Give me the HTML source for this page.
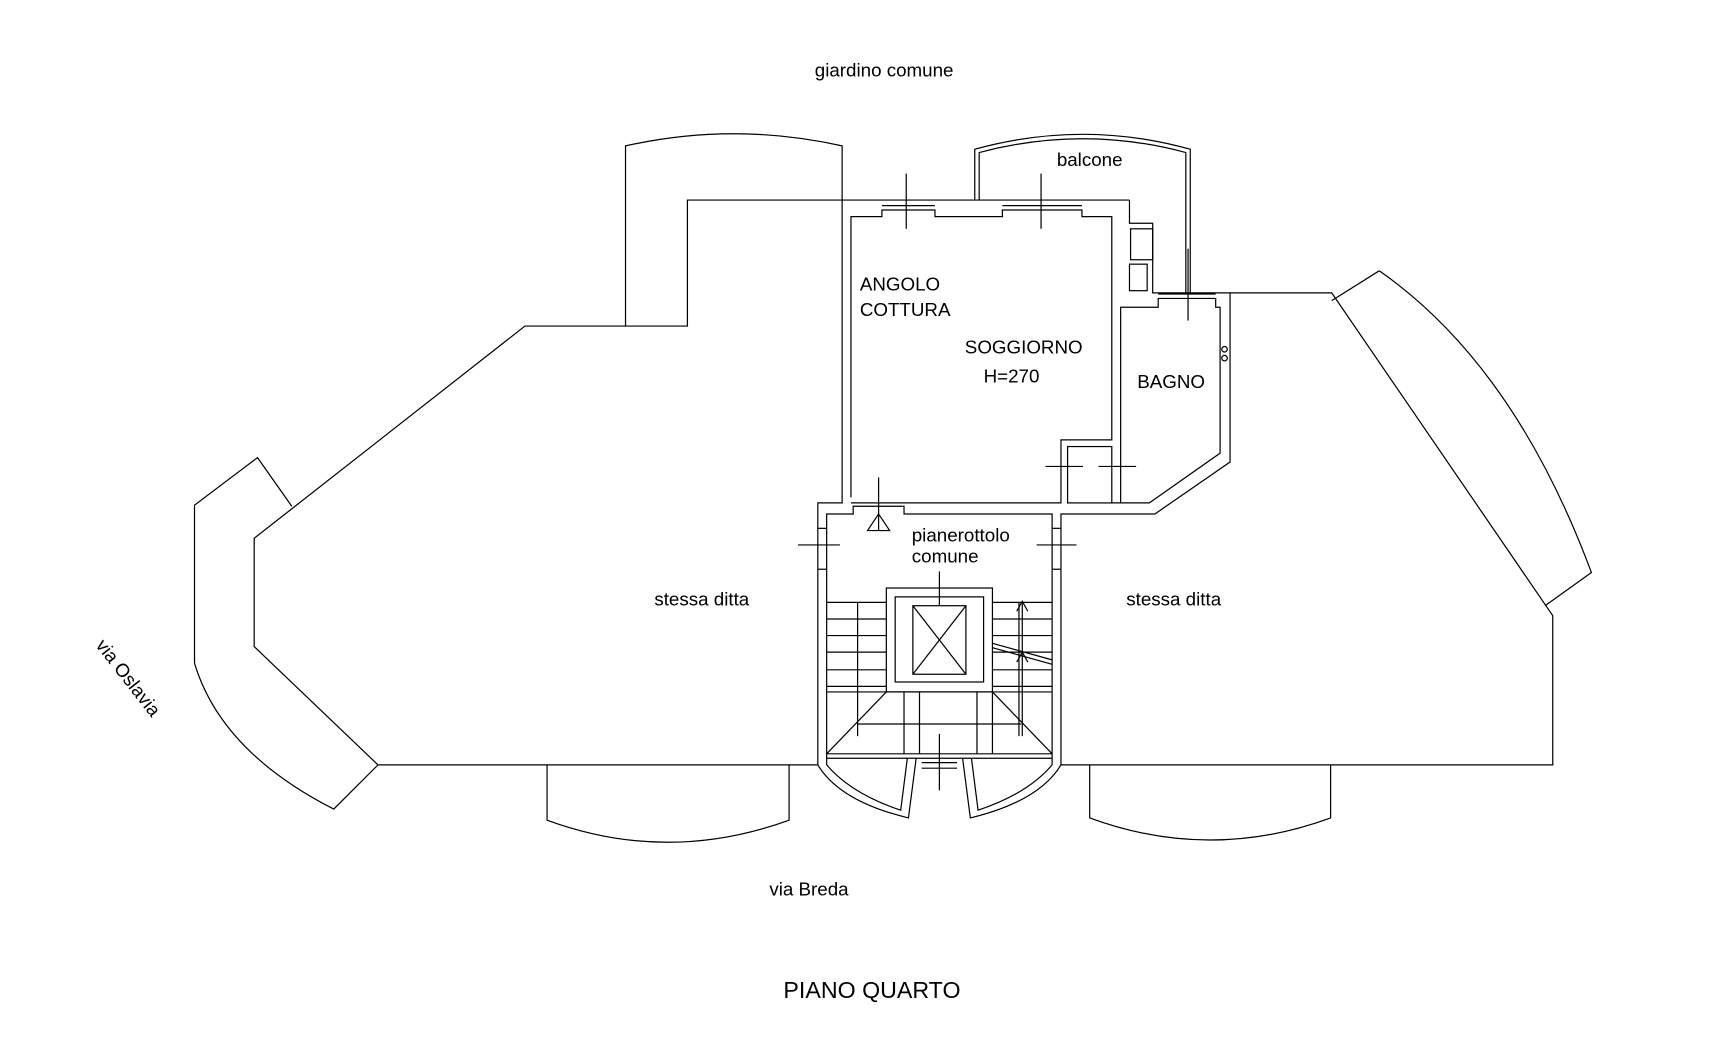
<!DOCTYPE html>
<html><head><meta charset="utf-8"><style>
html,body{margin:0;padding:0;background:#fff;width:1734px;height:1039px;overflow:hidden}
svg{display:block}
text{font-family:"Liberation Sans",Arial,sans-serif;fill:#000}
</style></head><body>
<svg width="1734" height="1039" viewBox="0 0 1569 940" preserveAspectRatio="none" xmlns="http://www.w3.org/2000/svg">
<g fill="none" stroke="#000" stroke-width="1.1">
<polyline points="740,692 342,692 230,585 230,487 475,295 622,295 622,181 1022,181"/>
<polyline points="264,458 233,414 176,457 176,600"/>
<path d="M176,600 Q200,680 302,732 L342,692"/>
<path d="M566,295 L566,132 Q664,110 762,132 L762,181"/>
<path d="M882,181 L882,135 Q980,108 1077,135 L1077,265"/>
<path d="M886,181 L886,138 Q980,113 1073,138 L1073,265"/>
<path d="M495,692 L495,742 Q604,782 714,742 L714,692"/>
<path d="M986,692 L986,740 Q1095,780 1204,740 L1204,692"/>
<polyline points="960,692 1405,692 1405,557 1205,265 1113,265"/>
<polyline points="1205,272 1248,245"/>
<path d="M1248,245 Q1370,330 1440,518 L1398,548"/>
<polyline points="762,181 762,455 740,455 740,692"/>
<polyline points="1022,181 1022,202 1043,202 1043,265 1113,265 1113,418 1045,465 960,465 960,692"/>
<polyline points="770,450 770,196 798,196 798,190 846,190 846,196 907,196 907,190 979,190 979,196 1006,196 1006,398 960,398 960,455 770,455"/>
<line x1="798" y1="186" x2="846" y2="186"/><line x1="907" y1="186" x2="979" y2="186"/>
<line x1="820" y1="157" x2="820" y2="207"/><line x1="942" y1="157" x2="942" y2="207"/>
<rect x="1023" y="207" width="20" height="28"/>
<rect x="1022" y="239" width="16" height="24"/>
<polyline points="1014,455 1014,278 1048,278 1048,270 1100,270 1100,278 1104,278 1104,410 1040,455 1006,455"/>
<line x1="1048" y1="266" x2="1100" y2="266"/>
<line x1="1075" y1="225" x2="1075" y2="290"/>
<circle cx="1108" cy="316" r="2.5"/><circle cx="1108" cy="324" r="2.5"/>
<rect x="966" y="404" width="40" height="51"/>
<line x1="946" y1="422" x2="980" y2="422"/><line x1="994" y1="422" x2="1028" y2="422"/>
<polyline points="748,692 748,465 772,465 772,458 818,458 818,465 952,465 952,692"/>
<line x1="795" y1="432" x2="795" y2="480"/>
<polygon points="795,465 785,480 805,480"/>
<line x1="722" y1="493" x2="760" y2="493"/><line x1="938" y1="493" x2="974" y2="493"/>
<line x1="740" y1="478" x2="748" y2="478"/><line x1="740" y1="515" x2="748" y2="515"/>
<line x1="952" y1="478" x2="960" y2="478"/><line x1="952" y1="515" x2="960" y2="515"/>
<rect x="802" y="532" width="96" height="94"/>
<rect x="810" y="540" width="80" height="77"/>
<rect x="826" y="548" width="48" height="62"/>
<line x1="826" y1="548" x2="874" y2="610"/><line x1="874" y1="548" x2="826" y2="610"/>
<line x1="850" y1="517" x2="850" y2="548"/>
<line x1="748" y1="545" x2="802" y2="545"/><line x1="748" y1="560" x2="802" y2="560"/>
<line x1="748" y1="575" x2="802" y2="575"/><line x1="748" y1="590" x2="802" y2="590"/>
<line x1="748" y1="606" x2="802" y2="606"/><line x1="748" y1="621" x2="802" y2="621"/>
<line x1="776" y1="545" x2="776" y2="666"/>
<line x1="898" y1="545" x2="952" y2="545"/><line x1="898" y1="560" x2="952" y2="560"/>
<line x1="898" y1="575" x2="952" y2="575"/><line x1="898" y1="590" x2="952" y2="590"/>
<line x1="898" y1="606" x2="952" y2="606"/><line x1="898" y1="621" x2="952" y2="621"/>
<line x1="922" y1="545" x2="922" y2="666"/>
<line x1="925" y1="545" x2="925" y2="666"/>
<line x1="898" y1="582" x2="952" y2="597"/><line x1="898" y1="586" x2="952" y2="601"/>
<path d="M920,553 L925,544 L930,553 M920,599 L925,590 L930,599"/>
<line x1="748" y1="626" x2="952" y2="626"/>
<polyline points="748,682 802,626"/><polyline points="952,682 898,626"/>
<line x1="776" y1="655" x2="924" y2="655"/>
<line x1="818" y1="626" x2="818" y2="682"/><line x1="832" y1="626" x2="832" y2="682"/>
<line x1="884" y1="626" x2="884" y2="682"/><line x1="898" y1="626" x2="898" y2="682"/>
<line x1="748" y1="682" x2="952" y2="682"/><line x1="748" y1="686" x2="952" y2="686"/>
<line x1="850" y1="664" x2="850" y2="715"/>
<line x1="834" y1="690" x2="866" y2="690"/><line x1="834" y1="695" x2="866" y2="695"/>
<path d="M740,692 Q760,725 822,740 L829,686"/>
<path d="M748,692 Q770,718 815,733 L821,686"/>
<path d="M960,692 Q940,725 878,740 L871,686"/>
<path d="M952,692 Q930,718 885,733 L879,686"/>
</g>
<g font-size="17">
<text x="800" y="69" text-anchor="middle">giardino comune</text>
<text x="986" y="150" text-anchor="middle">balcone</text>
<text x="778" y="263">ANGOLO</text>
<text x="778" y="286">COTTURA</text>
<text x="873" y="320">SOGGIORNO</text>
<text x="890" y="346">H=270</text>
<text x="1029" y="351">BAGNO</text>
<text x="825" y="490">pianerottolo</text>
<text x="825" y="509">comune</text>
<text x="635" y="548" text-anchor="middle">stessa ditta</text>
<text x="1062" y="548" text-anchor="middle">stessa ditta</text>
<text x="732" y="810" text-anchor="middle">via Breda</text>
<text x="0" y="0" transform="translate(86,584) rotate(52)">via Oslavia</text>
<text x="789" y="903" text-anchor="middle" font-size="21">PIANO QUARTO</text>
</g>
</svg>
</body></html>
